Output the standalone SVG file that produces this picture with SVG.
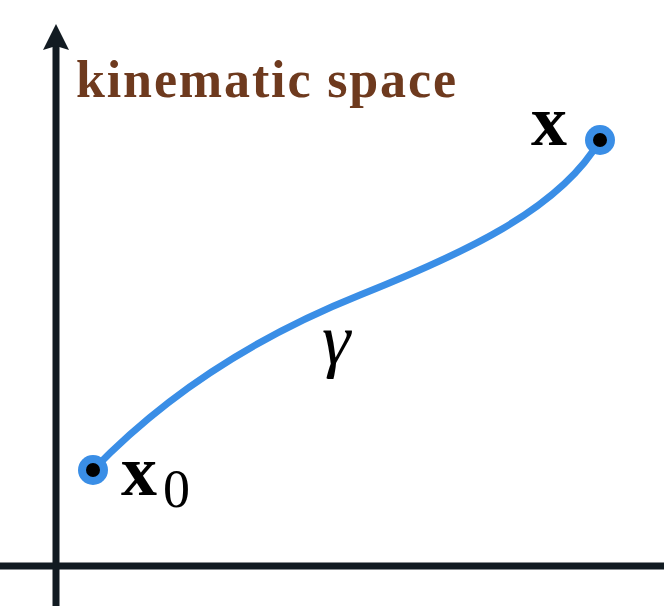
<svg xmlns="http://www.w3.org/2000/svg" width="664" height="606" viewBox="0 0 664 606">
<style>
.axis{stroke:#121b22;stroke-width:7;fill:none}
.curve{stroke:#3a8ee6;stroke-width:7;fill:none;stroke-linecap:round}
.ring{fill:#3a8ee6}
.dot{fill:#000}
.lbl{font-family:"Liberation Serif","DejaVu Serif",serif;fill:#000}
</style>
<g id="connectors">
<path class="axis" d="M56,606 V36"/>
<path d="M56,24 L69,50 L56,46 L43,50 Z" fill="#121b22"/>
<path class="axis" d="M0,566 H664"/>
<path id="gamma" class="curve" d="M93,470 C170,390 260,335 360,295 C460,255 560,210 600,140"/>
</g>
<g id="title"><text x="76" y="97" font-family="Liberation Serif,DejaVu Serif,serif" font-weight="bold" font-size="52" fill="#6e3a1e" textLength="380" lengthAdjust="spacing">kinematic space</text></g>
<g id="x0">
<circle class="ring" cx="93" cy="470" r="15"/>
<circle class="dot" cx="93" cy="470" r="7"/>
<text class="lbl" x="121" y="495" font-weight="bold" font-size="72">x</text>
<text class="lbl" x="163" y="507" font-size="54">0</text>
</g>
<g id="x">
<circle class="ring" cx="600" cy="140" r="15"/>
<circle class="dot" cx="600" cy="140" r="7"/>
<text class="lbl" x="531" y="145" font-weight="bold" font-size="72">x</text>
</g>
<g id="label-gamma"><text class="lbl" x="322" y="364" font-style="italic" font-size="72">γ</text></g>
</svg>
